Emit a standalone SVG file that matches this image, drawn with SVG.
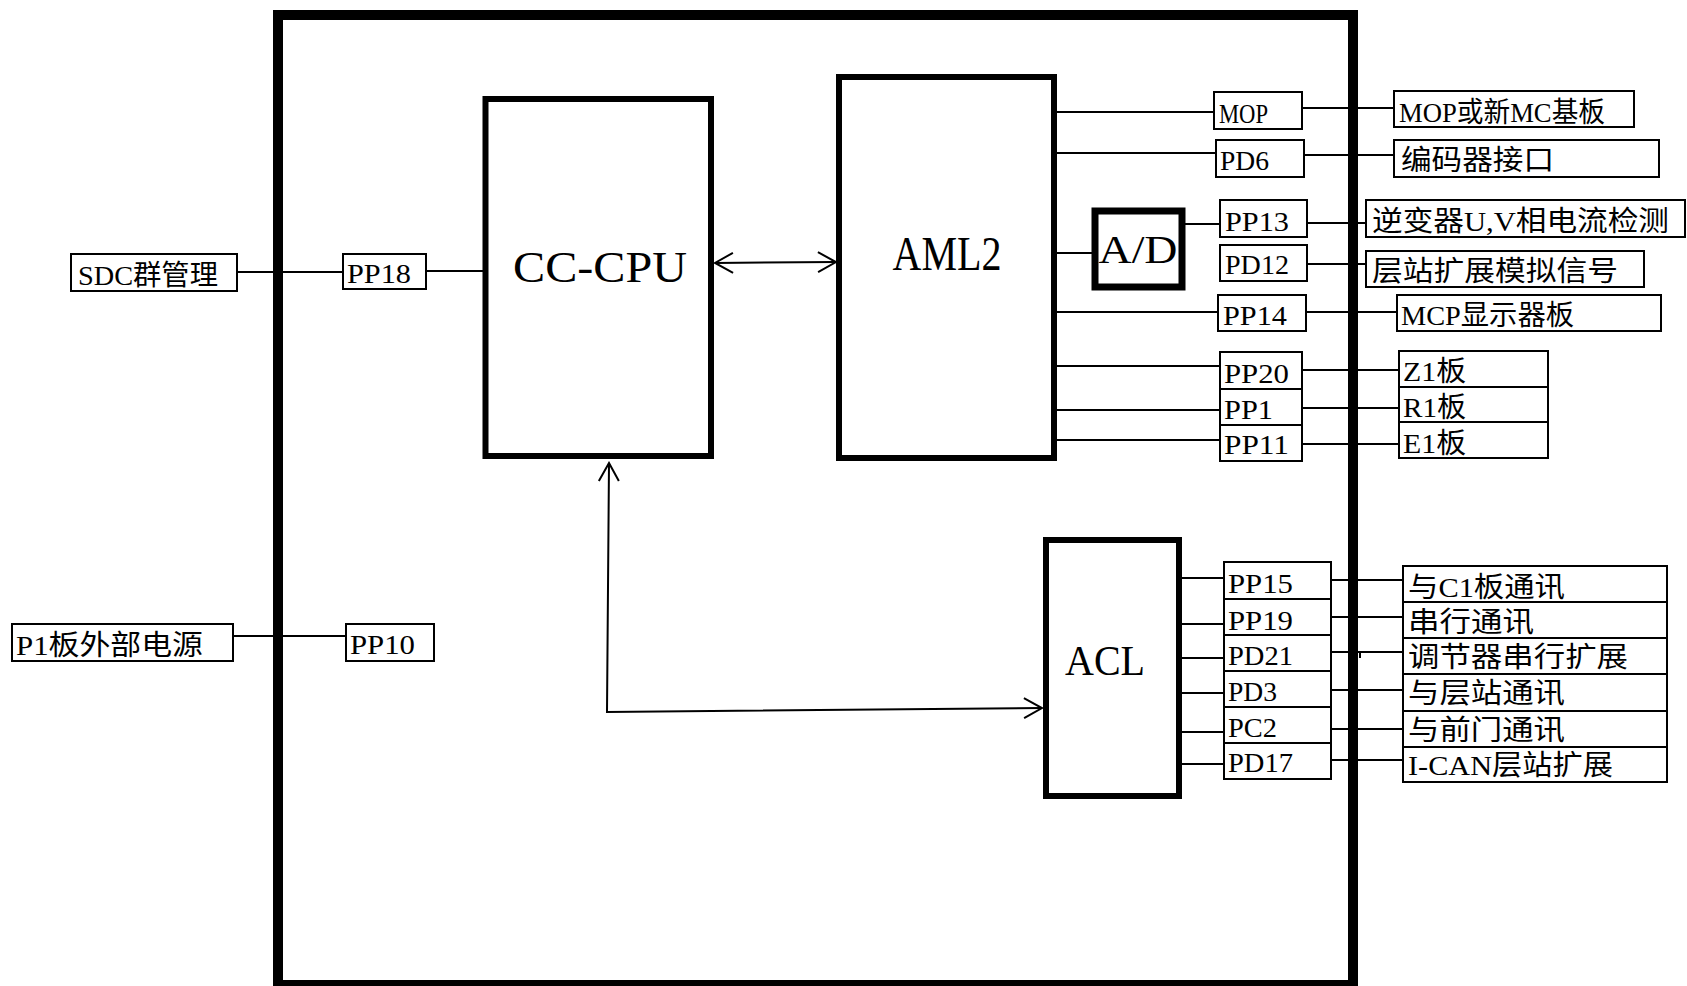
<svg xmlns="http://www.w3.org/2000/svg" width="1687" height="986" viewBox="0 0 1687 986">
<style>
.blk{fill:#fff;stroke:#000;stroke-width:6}
.box{fill:#fff;stroke:#000;stroke-width:2}
.ln{fill:none;stroke:#000;stroke-width:2}
.big{font-family:"Liberation Serif",serif;fill:#000;text-anchor:middle}
.lb{font-family:"Liberation Serif","Noto Sans CJK SC",serif;font-size:28px;fill:#000}
</style>
<defs>
<marker id="arr" viewBox="-20 -12 22 24" refX="0" refY="0" markerWidth="22" markerHeight="24" markerUnits="userSpaceOnUse" orient="auto-start-reverse">
<path d="M-18,-10 L0,0 L-18,10" fill="none" stroke="#000" stroke-width="2"/>
</marker>
</defs>
<rect width="1687" height="986" fill="#fff"/>

<g id="connectors">
<line class="ln" x1="237" y1="272" x2="343" y2="272"/>
<line class="ln" x1="426" y1="271" x2="486" y2="271"/>
<line class="ln" x1="233" y1="636" x2="346" y2="636"/>
<line class="ln" x1="715" y1="263" x2="836" y2="262" marker-start="url(#arr)" marker-end="url(#arr)"/>
<polyline class="ln" points="609,463 607,712 1042,708" marker-start="url(#arr)" marker-end="url(#arr)"/>
<line class="ln" x1="1057" y1="112" x2="1214" y2="112"/>
<line class="ln" x1="1057" y1="153" x2="1216" y2="153"/>
<line class="ln" x1="1057" y1="253" x2="1095" y2="253"/>
<line class="ln" x1="1185" y1="224" x2="1220" y2="224"/>
<line class="ln" x1="1057" y1="312" x2="1218" y2="312"/>
<line class="ln" x1="1057" y1="366" x2="1220" y2="366"/>
<line class="ln" x1="1057" y1="410" x2="1220" y2="410"/>
<line class="ln" x1="1057" y1="440" x2="1220" y2="440"/>
<line class="ln" x1="1302" y1="108" x2="1394" y2="108"/>
<line class="ln" x1="1304" y1="155" x2="1394" y2="155"/>
<line class="ln" x1="1307" y1="223" x2="1366" y2="223"/>
<line class="ln" x1="1307" y1="264" x2="1366" y2="264"/>
<line class="ln" x1="1306" y1="312" x2="1397" y2="312"/>
<line class="ln" x1="1302" y1="370" x2="1399" y2="370"/>
<line class="ln" x1="1302" y1="408" x2="1399" y2="408"/>
<line class="ln" x1="1302" y1="444" x2="1399" y2="444"/>
<line class="ln" x1="1182" y1="578" x2="1224" y2="578"/>
<line class="ln" x1="1182" y1="624" x2="1224" y2="624"/>
<line class="ln" x1="1182" y1="658" x2="1224" y2="658"/>
<line class="ln" x1="1182" y1="693" x2="1224" y2="693"/>
<line class="ln" x1="1182" y1="732" x2="1224" y2="732"/>
<line class="ln" x1="1182" y1="764" x2="1224" y2="764"/>
<line class="ln" x1="1331" y1="580" x2="1403" y2="580"/>
<line class="ln" x1="1331" y1="617" x2="1403" y2="617"/>
<line class="ln" x1="1331" y1="652" x2="1403" y2="652"/>
<line class="ln" x1="1331" y1="690" x2="1403" y2="690"/>
<line class="ln" x1="1331" y1="729" x2="1403" y2="729"/>
<line class="ln" x1="1331" y1="760" x2="1403" y2="760"/>
<line class="ln" x1="1360" y1="651" x2="1360" y2="658"/>
</g>

<g id="frame"><rect x="278" y="15" width="1075" height="970" fill="none" stroke="#000" stroke-width="10"/></g>

<g id="cc-cpu"><rect class="blk" x="485.5" y="99" width="225.5" height="357"/><text class="big" x="600" y="282" font-size="45" textLength="174" lengthAdjust="spacingAndGlyphs">CC-CPU</text></g>
<g id="aml2"><rect class="blk" x="839" y="77" width="215" height="381"/><text class="big" x="947" y="270" font-size="48" textLength="109" lengthAdjust="spacingAndGlyphs">AML2</text></g>
<g id="acl"><rect class="blk" x="1046" y="540" width="133" height="256"/><text class="big" x="1105" y="675" font-size="42" textLength="80" lengthAdjust="spacingAndGlyphs">ACL</text></g>
<g id="ad"><rect x="1095" y="211" width="87" height="76" fill="#fff" stroke="#000" stroke-width="7"/><text class="big" x="1138" y="263" font-size="40" textLength="79" lengthAdjust="spacingAndGlyphs">A/D</text></g>

<g id="sdc"><rect class="box" x="71" y="254" width="166" height="37"/><text class="lb" x="78" y="285" textLength="140" lengthAdjust="spacingAndGlyphs">SDC群管理</text></g>
<g id="pp18"><rect class="box" x="343" y="254" width="83" height="35"/><text class="lb" x="347" y="283" textLength="64" lengthAdjust="spacingAndGlyphs">PP18</text></g>
<g id="p1"><rect class="box" x="12" y="624" width="221" height="37"/><text class="lb" x="16" y="655" textLength="187" lengthAdjust="spacingAndGlyphs">P1板外部电源</text></g>
<g id="pp10"><rect class="box" x="346" y="624" width="88" height="37"/><text class="lb" x="350" y="654" textLength="65" lengthAdjust="spacingAndGlyphs">PP10</text></g>

<g id="mop"><rect class="box" x="1214" y="92" width="88" height="37"/><text class="lb" x="1219" y="123" textLength="49" lengthAdjust="spacingAndGlyphs">MOP</text></g>
<g id="pd6"><rect class="box" x="1216" y="140" width="88" height="37"/><text class="lb" x="1220" y="170" textLength="49" lengthAdjust="spacingAndGlyphs">PD6</text></g>
<g id="pp13"><rect class="box" x="1220" y="200" width="87" height="37"/><text class="lb" x="1225" y="231" textLength="64" lengthAdjust="spacingAndGlyphs">PP13</text></g>
<g id="pd12"><rect class="box" x="1220" y="245" width="87" height="36"/><text class="lb" x="1225" y="274" textLength="64" lengthAdjust="spacingAndGlyphs">PD12</text></g>
<g id="pp14"><rect class="box" x="1218" y="295" width="88" height="36"/><text class="lb" x="1223" y="325" textLength="64" lengthAdjust="spacingAndGlyphs">PP14</text></g>
<g id="pp20"><rect class="box" x="1220" y="352" width="82" height="37"/><text class="lb" x="1224" y="383" textLength="65" lengthAdjust="spacingAndGlyphs">PP20</text></g>
<g id="pp1"><rect class="box" x="1220" y="389" width="82" height="36"/><text class="lb" x="1224" y="419" textLength="49" lengthAdjust="spacingAndGlyphs">PP1</text></g>
<g id="pp11"><rect class="box" x="1220" y="425" width="82" height="36"/><text class="lb" x="1224" y="454" textLength="65" lengthAdjust="spacingAndGlyphs">PP11</text></g>

<g id="t-mop"><rect class="box" x="1394" y="91" width="240" height="36"/><text class="lb" x="1399" y="122" textLength="206" lengthAdjust="spacingAndGlyphs">MOP或新MC基板</text></g>
<g id="t-enc"><rect class="box" x="1394" y="140" width="265" height="37"/><text class="lb" x="1401" y="170" textLength="153" lengthAdjust="spacingAndGlyphs">编码器接口</text></g>
<g id="t-inv"><rect class="box" x="1366" y="200" width="319" height="37"/><text class="lb" x="1372" y="231" textLength="297" lengthAdjust="spacingAndGlyphs">逆变器U,V相电流检测</text></g>
<g id="t-ana"><rect class="box" x="1366" y="251" width="278" height="36"/><text class="lb" x="1372" y="281" textLength="246" lengthAdjust="spacingAndGlyphs">层站扩展模拟信号</text></g>
<g id="t-mcp"><rect class="box" x="1397" y="295" width="264" height="36"/><text class="lb" x="1401" y="325" textLength="173" lengthAdjust="spacingAndGlyphs">MCP显示器板</text></g>
<g id="t-z1"><rect class="box" x="1399" y="351" width="149" height="36"/><text class="lb" x="1403" y="381" textLength="63" lengthAdjust="spacingAndGlyphs">Z1板</text></g>
<g id="t-r1"><rect class="box" x="1399" y="387" width="149" height="35"/><text class="lb" x="1403" y="417" textLength="63" lengthAdjust="spacingAndGlyphs">R1板</text></g>
<g id="t-e1"><rect class="box" x="1399" y="422" width="149" height="36"/><text class="lb" x="1403" y="453" textLength="63" lengthAdjust="spacingAndGlyphs">E1板</text></g>

<g id="pp15"><rect class="box" x="1224" y="562" width="107" height="37"/><text class="lb" x="1228" y="593" textLength="65" lengthAdjust="spacingAndGlyphs">PP15</text></g>
<g id="pp19"><rect class="box" x="1224" y="599" width="107" height="36"/><text class="lb" x="1228" y="630" textLength="65" lengthAdjust="spacingAndGlyphs">PP19</text></g>
<g id="pd21"><rect class="box" x="1224" y="635" width="107" height="36"/><text class="lb" x="1228" y="665" textLength="65" lengthAdjust="spacingAndGlyphs">PD21</text></g>
<g id="pd3"><rect class="box" x="1224" y="671" width="107" height="36"/><text class="lb" x="1228" y="701" textLength="49" lengthAdjust="spacingAndGlyphs">PD3</text></g>
<g id="pc2"><rect class="box" x="1224" y="707" width="107" height="36"/><text class="lb" x="1228" y="737" textLength="49" lengthAdjust="spacingAndGlyphs">PC2</text></g>
<g id="pd17"><rect class="box" x="1224" y="743" width="107" height="36"/><text class="lb" x="1228" y="772" textLength="65" lengthAdjust="spacingAndGlyphs">PD17</text></g>

<g id="t-c1"><rect class="box" x="1403" y="566" width="264" height="36"/><text class="lb" x="1408" y="597" textLength="157" lengthAdjust="spacingAndGlyphs">与C1板通讯</text></g>
<g id="t-ser"><rect class="box" x="1403" y="602" width="264" height="36"/><text class="lb" x="1408" y="632" textLength="126" lengthAdjust="spacingAndGlyphs">串行通讯</text></g>
<g id="t-reg"><rect class="box" x="1403" y="638" width="264" height="36"/><text class="lb" x="1408" y="667" textLength="220" lengthAdjust="spacingAndGlyphs">调节器串行扩展</text></g>
<g id="t-hall"><rect class="box" x="1403" y="674" width="264" height="37"/><text class="lb" x="1408" y="703" textLength="157" lengthAdjust="spacingAndGlyphs">与层站通讯</text></g>
<g id="t-door"><rect class="box" x="1403" y="711" width="264" height="36"/><text class="lb" x="1408" y="740" textLength="157" lengthAdjust="spacingAndGlyphs">与前门通讯</text></g>
<g id="t-ican"><rect class="box" x="1403" y="747" width="264" height="35"/><text class="lb" x="1408" y="775" textLength="205" lengthAdjust="spacingAndGlyphs">I-CAN层站扩展</text></g>
</svg>
